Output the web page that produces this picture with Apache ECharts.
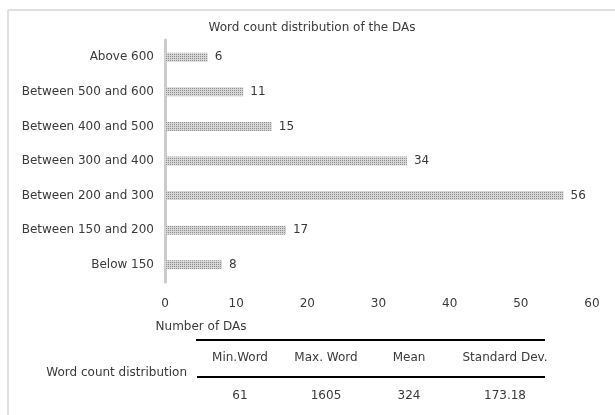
<!DOCTYPE html>
<html>
<head>
<meta charset="utf-8">
<script src="https://cdn.jsdelivr.net/npm/echarts@6/dist/echarts.min.js"></script>
<style>
  html, body { margin: 0; padding: 0; background: #fff; overflow: hidden; }
  #chart { width: 615px; height: 415px; }
</style>
</head>
<body>
<div id="chart"></div>
<script>
const categories = ['Above 600', 'Between 500 and 600', 'Between 400 and 500', 'Between 300 and 400', 'Between 200 and 300', 'Between 150 and 200', 'Below 150'];
const counts = [6, 11, 15, 34, 56, 17, 8];

const tableHeaders = ['Min.Word', 'Max. Word', 'Mean', 'Standard Dev.'];
const tableValues = ['61', '1605', '324', '173.18'];
const tableRowLabel = 'Word count distribution';

const font = '"DejaVu Sans"';
const textColor = '#3a3a3a';

// dotted fill like the original bars
const makePattern = () => {
    const c = document.createElement('canvas');
    c.width = 2;
    c.height = 2;
    const ctx = c.getContext('2d');
    ctx.fillStyle = '#d6d6d6';
    ctx.fillRect(0, 0, 2, 2);
    ctx.fillStyle = '#8e8e8e';
    ctx.fillRect(0, 0, 1, 1);
    return c;
};

const chart = echarts.init(document.getElementById('chart'));

const txt = (text, x, y, align) => ({
    type: 'text', x: x, y: y,
    style: { text: text, fill: textColor, font: '12px ' + font, textAlign: align || 'center', textVerticalAlign: 'middle' }
});

const colX = [240, 326, 409, 505];
const graphics = [
    // chart frame: only the top and left edges are inside the picture
    { type: 'line', shape: { x1: 8, y1: 10, x2: 615, y2: 10 }, style: { stroke: '#e0e0e0', lineWidth: 2 }, silent: true },
    { type: 'line', shape: { x1: 8, y1: 10, x2: 8, y2: 415 }, style: { stroke: '#e0e0e0', lineWidth: 2 }, silent: true },
    txt('Word count distribution of the DAs', 312, 28),
    txt('Number of DAs', 201, 327),
    { type: 'line', shape: { x1: 196, y1: 340, x2: 545, y2: 340 }, style: { stroke: '#000', lineWidth: 2 } },
    { type: 'line', shape: { x1: 197, y1: 377, x2: 545, y2: 377 }, style: { stroke: '#000', lineWidth: 2 } },
    txt(tableRowLabel, 187, 373, 'right')
];
tableHeaders.forEach((h, i) => {
    graphics.push(txt(h, colX[i], 358));
    graphics.push(txt(tableValues[i], colX[i], 396));
});

const option = {
    animation: false,
    textStyle: { fontFamily: font },
    grid: { left: 165, right: 23, top: 40, bottom: 133 },
    xAxis: {
        type: 'value',
        min: 0,
        max: 60,
        interval: 10,
        axisLine: { show: false },
        axisTick: { show: false },
        splitLine: { show: false },
        axisLabel: { color: textColor, fontSize: 12, margin: 16, fontFamily: font }
    },
    yAxis: {
        type: 'category',
        data: categories,
        inverse: true,
        axisLine: { show: true, lineStyle: { color: '#cccccc', width: 3 } },
        axisTick: { show: false },
        axisLabel: { color: textColor, fontSize: 12, margin: 11, fontFamily: font }
    },
    series: [{
        type: 'bar',
        data: counts,
        barWidth: 9,
        itemStyle: { color: { image: makePattern(), repeat: 'repeat' } },
        label: { show: true, position: 'right', distance: 7, color: textColor, fontSize: 12, fontFamily: font }
    }],
    graphic: graphics
};

chart.setOption(option);
</script>
</body>
</html>
